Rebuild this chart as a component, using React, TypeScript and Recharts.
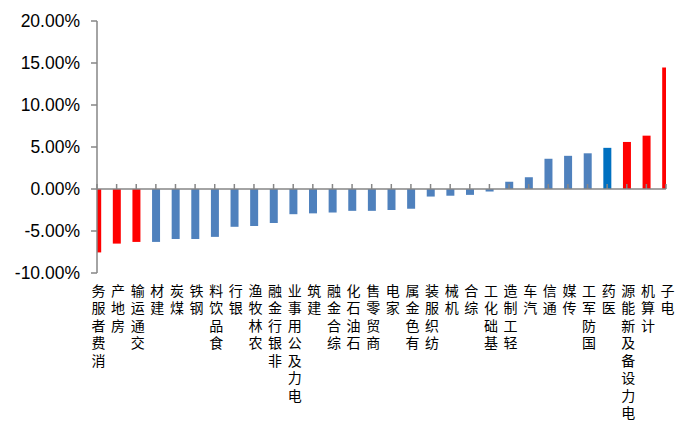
import React from "react";
import { BarChart, Bar, Cell, XAxis, YAxis, ReferenceLine } from "recharts";

// industry returns, sorted ascending (%)
const categories = [
  "消费者服务", "房地产", "交通运输", "建材", "煤炭", "钢铁", "食品饮料", "银行",
  "农林牧渔", "非银行金融", "电力及公用事业", "建筑", "综合金融", "石油石化", "商贸零售",
  "家电", "有色金属", "纺织服装", "机械", "综合", "基础化工", "轻工制造", "汽车",
  "通信", "传媒", "国防军工", "医药", "电力设备及新能源", "计算机", "电子",
];
const returns = [
  -7.55, -6.5, -6.3, -6.3, -5.95, -5.95, -5.7, -4.5,
  -4.4, -4.05, -3.0, -2.9, -2.8, -2.6, -2.6,
  -2.5, -2.35, -0.9, -0.8, -0.7, -0.3, 0.85, 1.4,
  3.6, 3.95, 4.25, 4.9, 5.6, 6.35, 14.45,
];
const yTicks = [-10, -5, 0, 5, 10, 15, 20];
const redSectors = ["消费者服务", "房地产", "交通运输", "电力设备及新能源", "计算机", "电子"];
const darkBlueSectors = ["医药"];

const rows = categories.map((name, i) => ({ idx: i, name, value: returns[i] }));
const xTicks = rows.map((r) => r.idx);

const TOP = 21;
const PLOT_H = 252;
const Y_MIN = -10;
const Y_MAX = 20;
const ZERO_Y = TOP + ((Y_MAX - 0) / (Y_MAX - Y_MIN)) * PLOT_H;
const AXIS_GRAY = "#868686";
const LABEL_SIZE = 14;

const barColor = (name: string) =>
  redSectors.includes(name) ? "#FF0000" : darkBlueSectors.includes(name) ? "#0070C0" : "#4F81BD";

// labels run bottom-to-top, glyphs kept upright (rotate attr undoes the -90 turn)
const CategoryTick = ({ x, y, payload }: any) => {
  const label = categories[payload.value] ?? "";
  return (
    <g>
      <line x1={x} x2={x} y1={ZERO_Y - 5} y2={ZERO_Y} stroke={AXIS_GRAY} strokeWidth={1.5} />
      <text
        transform={`translate(${x - LABEL_SIZE / 2 + 1.5}, ${y + 5}) rotate(-90)`}
        rotate={90}
        textAnchor="end"
        letterSpacing={3.5}
        fontSize={LABEL_SIZE}
        fontFamily="Noto Sans CJK SC"
        fill="#000"
      >
        {label}
      </text>
    </g>
  );
};

export default function App() {
  return (
    <div style={{ position: "absolute", left: 0, top: 0, background: "#fff" }}>
      <BarChart
        width={692}
        height={427}
        data={rows}
        margin={{ top: TOP, right: 26, bottom: 0, left: 0 }}
      >
        <XAxis
          type="number"
          dataKey="idx"
          domain={[0, categories.length - 1]}
          ticks={xTicks}
          interval={0}
          allowDataOverflow
          axisLine={false}
          tickLine={false}
          tickSize={0}
          tickMargin={0}
          height={427 - TOP - PLOT_H}
          tick={<CategoryTick />}
        />
        <YAxis
          type="number"
          domain={[Y_MIN, Y_MAX]}
          ticks={yTicks}
          interval={0}
          width={97}
          axisLine={{ stroke: AXIS_GRAY, strokeWidth: 1.5 }}
          tickLine={{ stroke: AXIS_GRAY, strokeWidth: 1.5 }}
          tickSize={6}
          tickMargin={11}
          tickFormatter={(v: number) => `${v.toFixed(2)}%`}
          tick={{ fill: "#000", fontSize: 17.5, fontFamily: "Liberation Sans" }}
        />
        <Bar dataKey="value" barSize={8} isAnimationActive={false}>
          {rows.map((r) => (
            <Cell key={r.name} fill={barColor(r.name)} />
          ))}
        </Bar>
        <ReferenceLine y={0} stroke={AXIS_GRAY} strokeWidth={1.5} />
      </BarChart>
    </div>
  );
}
